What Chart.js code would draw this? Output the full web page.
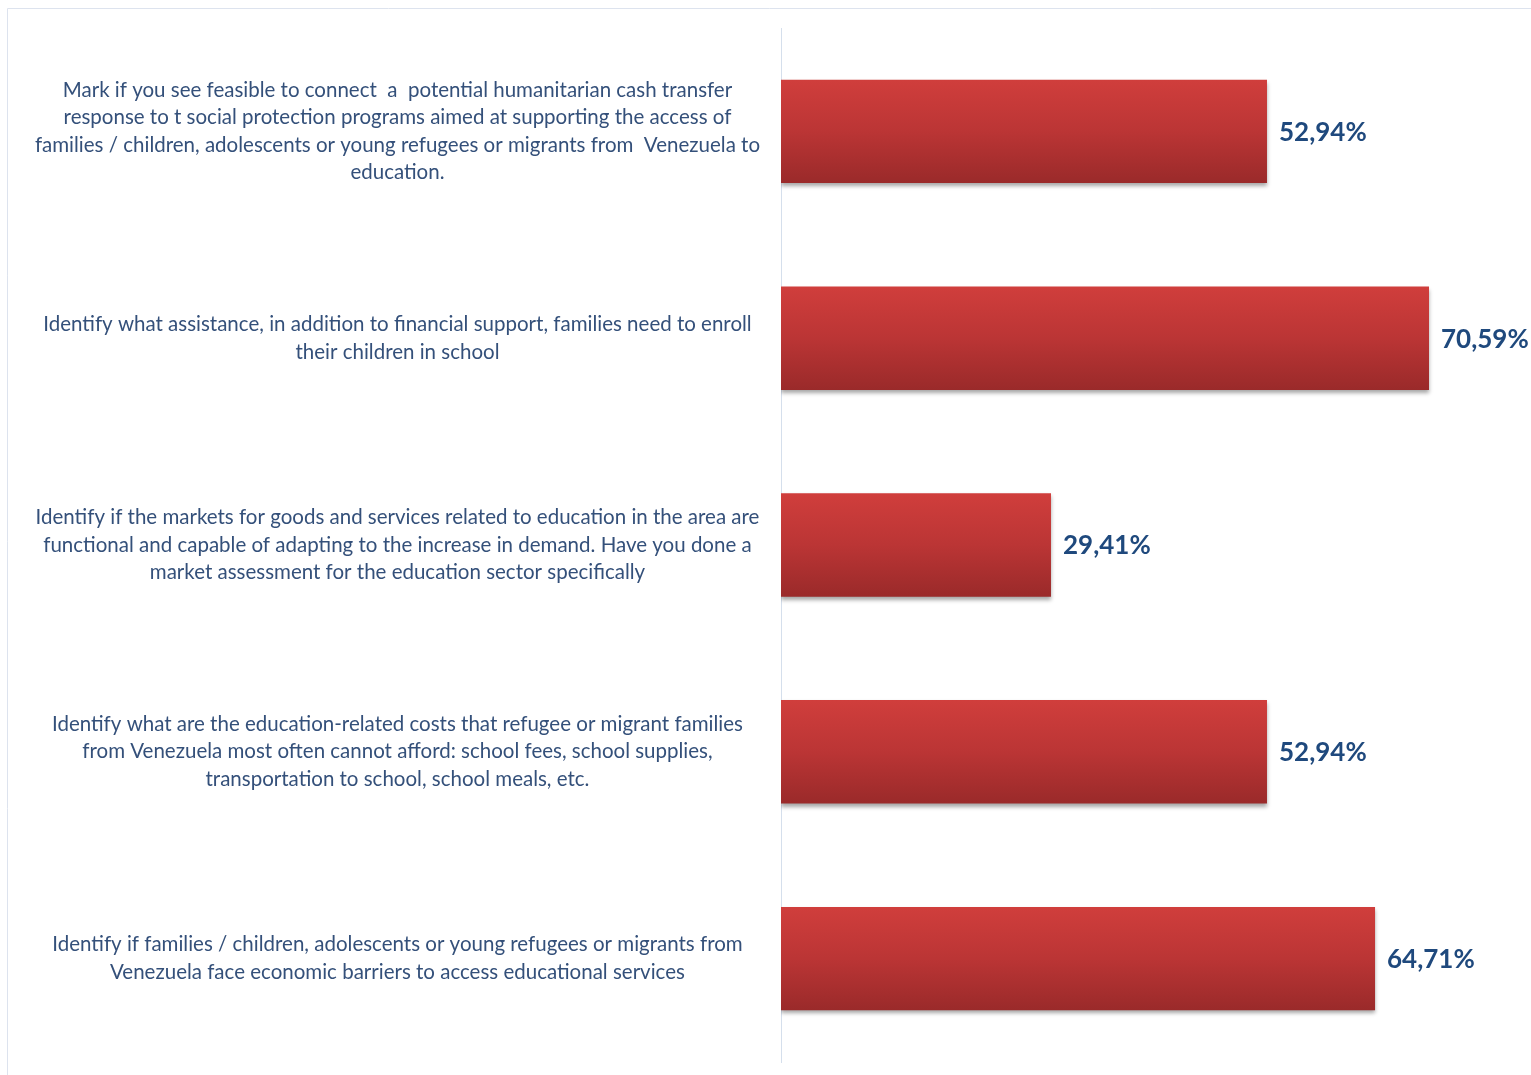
<!DOCTYPE html>
<html>
<head>
<meta charset="utf-8">
<script src="https://cdn.jsdelivr.net/npm/chart.js@4/dist/chart.umd.min.js"></script>
<style>
  html, body { margin: 0; padding: 0; background: #fff; }
  #wrap { width: 1531px; height: 1075px; position: relative; }
</style>
</head>
<body>
<div id="wrap"><canvas id="chart" width="1531" height="1075"></canvas></div>
<script>
// categories (top to bottom), each split in lines as in the picture
const categories = [
    ['Mark if you see feasible to connect  a  potential humanitarian cash transfer',
     'response to t social protection programs aimed at supporting the access of',
     'families / children, adolescents or young refugees or migrants from  Venezuela to',
     'education.'],
    ['Identify what assistance, in addition to financial support, families need to enroll',
     'their children in school'],
    ['Identify if the markets for goods and services related to education in the area are',
     'functional and capable of adapting to the increase in demand. Have you done a',
     'market assessment for the education sector specifically'],
    ['Identify what are the education-related costs that refugee or migrant families',
     'from Venezuela most often cannot afford: school fees, school supplies,',
     'transportation to school, school meals, etc.'],
    ['Identify if families / children, adolescents or young refugees or migrants from',
     'Venezuela face economic barriers to access educational services']
];
const values = [52.94, 70.59, 29.41, 52.94, 64.71];
const valueLabels = ['52,94%', '70,59%', '29,41%', '52,94%', '64,71%'];
const xMax = 81.7;

const labelColor = '#34507a';
const valueColor = '#1f497d';
const axisColor = '#d5dfec';

// gradient for each bar, built from the y scale position of the category
function barGradient(ctx) {
    const chart = ctx.chart;
    const y = chart.scales.y;
    if (!chart.chartArea || !y) return '#c0393a';
    const center = y.getPixelForValue(ctx.dataIndex);
    const half = (y.height / categories.length) * 0.5 / 2;
    const g = chart.ctx.createLinearGradient(0, center - half, 0, center + half);
    g.addColorStop(0, '#d03e3c');
    g.addColorStop(0.5, '#bb3535');
    g.addColorStop(1, '#9a2a2a');
    return g;
}

const framePlugin = {
    id: 'frame',
    beforeDraw(chart) {
        const c = chart.ctx;
        c.save();
        c.strokeStyle = '#dde3ee';
        c.lineWidth = 1;
        c.beginPath();
        c.moveTo(7.5, 1075);
        c.lineTo(7.5, 8.5);
        c.lineTo(1531, 8.5);
        c.stroke();
        c.restore();
    }
};

const shadowPlugin = {
    id: 'barShadow',
    beforeDatasetsDraw(chart) {
        const c = chart.ctx;
        c.save();
        c.shadowColor = 'rgba(0,0,0,0.35)';
        c.shadowBlur = 4;
        c.shadowOffsetY = 3;
    },
    afterDatasetsDraw(chart) {
        chart.ctx.restore();
    }
};

const valuePlugin = {
    id: 'valueLabels',
    afterDraw(chart) {
        const c = chart.ctx;
        const meta = chart.getDatasetMeta(0);
        c.save();
        c.fillStyle = valueColor;
        c.font = 'bold 26px Lato, "Liberation Sans", sans-serif';
        c.textAlign = 'left';
        c.textBaseline = 'middle';
        meta.data.forEach((bar, i) => {
            c.fillText(valueLabels[i], bar.x + 12, bar.y + 1);
        });
        c.restore();
    }
};

new Chart(document.getElementById('chart'), {
    type: 'bar',
    data: {
        labels: categories,
        datasets: [{
            data: values,
            backgroundColor: barGradient,
            borderWidth: 0,
            barPercentage: 0.5,
            categoryPercentage: 1.0
        }]
    },
    options: {
        indexAxis: 'y',
        responsive: false,
        animation: false,
        layout: { padding: { top: 28, bottom: 13, left: 0, right: 0 } },
        plugins: {
            legend: { display: false },
            tooltip: { enabled: false }
        },
        scales: {
            x: {
                display: false,
                min: 0,
                max: xMax
            },
            y: {
                afterFit(scale) {
                    scale.width = 781;
                    scale.paddingTop = 0;
                    scale.paddingBottom = 0;
                },
                grid: { display: false, drawTicks: false },
                border: { display: true, color: axisColor, width: 1 },
                ticks: {
                    crossAlign: 'center',
                    padding: 21,
                    color: labelColor,
                    font: { family: 'Lato, "Liberation Sans", sans-serif', size: 20.5, lineHeight: 1.34 }
                }
            }
        }
    },
    plugins: [framePlugin, shadowPlugin, valuePlugin]
});
</script>
</body>
</html>
